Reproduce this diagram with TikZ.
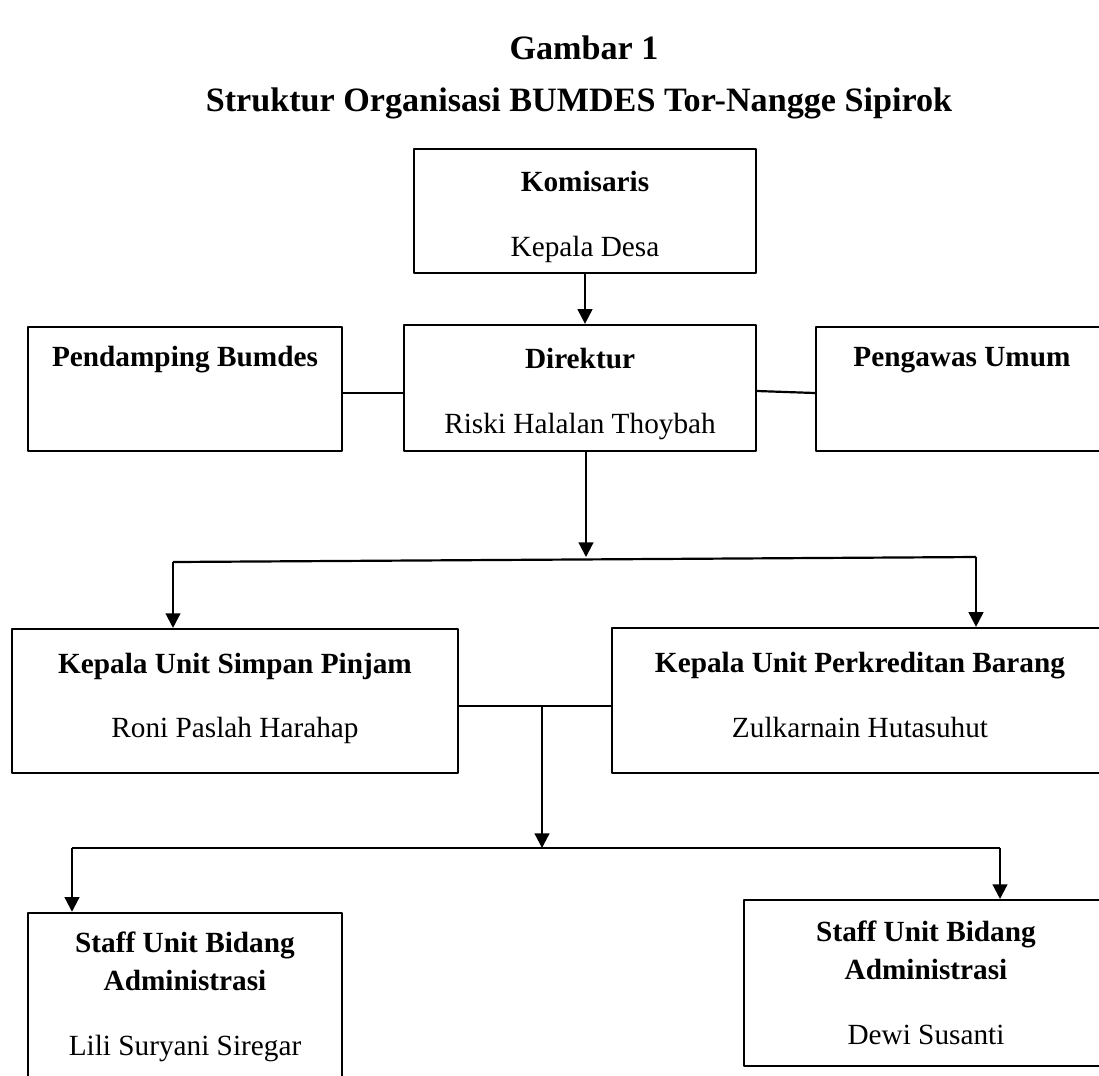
\documentclass[tikz,border=0pt]{standalone}
\usepackage{fontspec}
\setmainfont{Liberation Serif}
\usetikzlibrary{arrows.meta}
\newcommand{\atas}{\rule{0pt}{13pt}}
\begin{document}
\begin{tikzpicture}[x=0.41pt,y=-0.41pt,line width=0.9pt,line join=round,>={Triangle[length=6pt,width=6pt]},
	kotak/.style={draw,rectangle,align=center,inner sep=0pt,font=\fontsize{12}{15.5}\selectfont},
	judul/.style={anchor=base,font=\fontsize{14}{16}\selectfont\bfseries}]
	\useasboundingbox (0,0) rectangle (1099,1075);
	\clip (0,0) rectangle (1099,1075);
	% judul
	\node[judul] (gambar) at (584,59) {Gambar 1};
	\node[judul] (struktur) at (579,111) {Struktur Organisasi BUMDES Tor-Nangge Sipirok};
	% kotak jabatan
	\node[kotak,minimum width=140.2pt,minimum height=50.8pt] (kom) at (585,211) {\atas\textbf{Komisaris}\\[11pt]Kepala Desa};
	\node[kotak,minimum width=144.3pt,minimum height=51.7pt] (dir) at (580,388) {\atas\textbf{Direktur}\\[11pt]Riski Halalan Thoybah};
	\node[kotak,minimum width=128.7pt,minimum height=50.8pt] (pend) at (185,389) {\atas\textbf{Pendamping Bumdes}\\[11pt]\strut};
	\node[kotak,minimum width=119.7pt,minimum height=50.8pt] (peng) at (962,389) {\atas\textbf{Pengawas Umum}\\[11pt]\strut};
	\node[kotak,minimum width=182.9pt,minimum height=59pt] (simpan) at (235,701) {\textbf{Kepala Unit Simpan Pinjam}\\[11pt]Roni Paslah Harahap\strut};
	\node[kotak,minimum width=203.4pt,minimum height=59.5pt] (kredit) at (860,700.5) {\textbf{Kepala Unit Perkreditan Barang}\\[11pt]Zulkarnain Hutasuhut\strut};
	\node[kotak,minimum width=128.7pt,minimum height=69pt] (staffa) at (185,997) {\textbf{Staff Unit Bidang}\\\textbf{Administrasi}\\[11pt]Lili Suryani Siregar};
	\node[kotak,minimum width=149.2pt,minimum height=68pt] (staffb) at (926,983) {\textbf{Staff Unit Bidang}\\\textbf{Administrasi}\\[11pt]Dewi Susanti};
	% garis penghubung
	\draw[->] (kom.south) -- (kom.south |- dir.north);
	\coordinate (c0) at (373,393);
	\draw (c0 -| pend.east) -- (c0 -| dir.west);
	\draw (dir.east |- 0,391) -- (peng.west |- 0,393);
	\coordinate (c1) at (586,557);
	\draw[->] (dir.south -| c1) -- (c1);
	\coordinate (c2) at (173,562);
	\coordinate (c3) at (976,557);
	\draw (c2) -- (c3);
	\draw[->] (c2) -- (c2 |- simpan.north);
	\draw[->] (c3) -- (c3 |- kredit.north);
	\coordinate (c4) at (542,706);
	\draw (c4 -| simpan.east) -- (c4) -- (c4 -| kredit.west);
	\coordinate (c5) at (542,848);
	\draw[->] (c4) -- (c5);
	\coordinate (c6) at (72,848);
	\coordinate (c7) at (1000,848);
	\draw (c6) -- (c7);
	\draw[->] (c6) -- (c6 |- staffa.north);
	\draw[->] (c7) -- (c7 |- staffb.north);
\end{tikzpicture}
\end{document}
